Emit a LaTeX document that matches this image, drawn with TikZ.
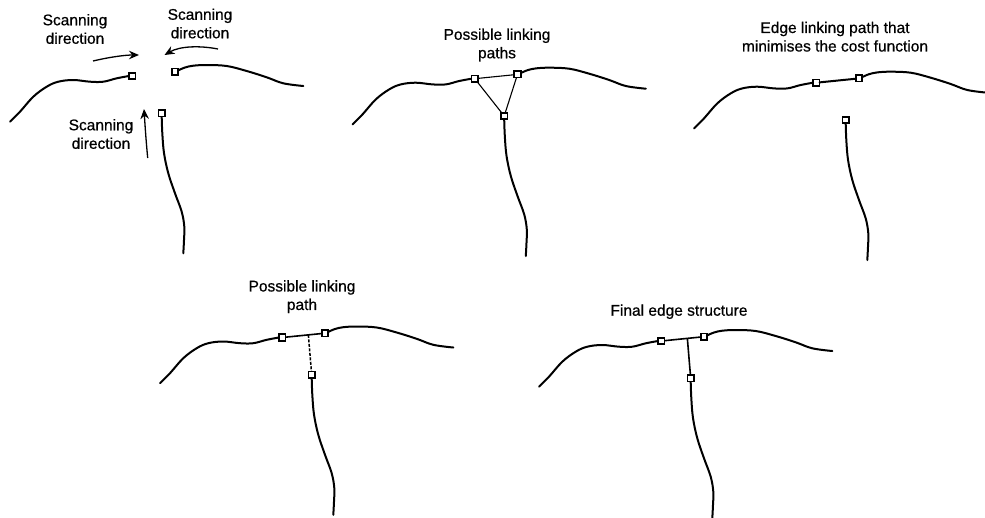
\documentclass[tikz,border=0pt]{standalone}
\usepackage{fontspec}
\setmainfont{Liberation Sans}
\newfontfamily\lblfont[FakeBold=0.6]{Liberation Sans}
\usetikzlibrary{arrows.meta,calc}
\begin{document}
\begin{tikzpicture}[x=1pt,y=-1pt,
  curve/.style={line width=2pt, line cap=round, line join=round},
  sq/.style={draw, line width=1.6pt, fill=white, minimum size=6.5pt, inner sep=0pt, outer sep=0pt},
  thinlink/.style={line width=1.1pt},
  solidlink/.style={line width=1.6pt},
  dashlink/.style={line width=1.5pt, dash pattern=on 3pt off 1.5pt},
  scanarrow/.style={line width=1.3pt, -{Stealth[length=10pt,width=8.5pt]}},
  lbl/.style={font=\lblfont\fontsize{15.5}{18.5}\selectfont, align=center, inner sep=0pt},
  pics/edgeset/.style={code={
    \draw[curve] plot[smooth,tension=0.6] coordinates {(10,121.7) (20,111.7) (33.3,96.7) (46.7,86.7) (58.3,81.7) (73.3,80) (90,81.7) (103.3,81.7) (116.7,78.3) (129,76)};
    \draw[curve] plot[smooth,tension=0.6] coordinates {(178,70.5) (185,67.5) (193.3,65.7) (206.7,65) (226.7,66) (246.7,71) (266.7,77.3) (283.3,83.3) (303.3,86)};
    \draw[curve] plot[smooth,tension=0.6] coordinates {(161.7,116.5) (162.3,133) (164,153) (168.3,173.3) (175,193.3) (181.7,211.7) (184.3,226.7) (184,240) (183.3,253.3)};
    \node[sq] (-A) at (132.3,76) {};
    \node[sq] (-B) at (175,71.7) {};
    \node[sq] (-C) at (161.7,113.3) {};
  }}
]
\useasboundingbox (0,0) rectangle (985,517);

% five copies of the edge configuration
\pic (p1) at (0,0) {edgeset};
\pic (p2) at (342.5,2.7) {edgeset};
\pic (p3) at (684,6.7) {edgeset};
\pic (p4) at (150,261.5) {edgeset};
\pic (p5) at (529,265) {edgeset};

% panel 1: scanning directions
\node[lbl] (t1) at (75,29) {Scanning\\direction};
\node[lbl] (t2) at (200,23.5) {Scanning\\direction};
\node[lbl] (t3) at (101,134) {Scanning\\direction};
\coordinate (a1s) at (93,61);
\coordinate (a1e) at (139,55);
\coordinate (a2s) at (218,49);
\coordinate (a2e) at (164.5,55);
\coordinate (a3s) at (147.7,158);
\coordinate (a3e) at (144,109);
\draw[scanarrow] (a1s) .. controls (110,57) and (125,55) .. (a1e);
\draw[scanarrow] (a2s) .. controls (200,45.5) and (180,46) .. (a2e);
\draw[scanarrow] (a3s) .. controls (146,140) and (145,125) .. (a3e);

% panel 2: possible linking paths
\node[lbl] (t4) at (497,45) {Possible linking\\paths};
\draw[thinlink] (p2-A) -- (p2-B);
\draw[thinlink] (p2-A) -- (p2-C);
\draw[thinlink] (p2-B) -- (p2-C);

% panel 3: minimum cost path
\node[lbl] (t5) at (835,36.7) {Edge linking path that\\minimises the cost function};
\draw[curve] (p3-A) -- (p3-B);

% panel 4: possible linking path
\node[lbl] (t6) at (302,296.7) {Possible linking\\path};
\draw[solidlink] (p4-A) -- (p4-B);
\coordinate (p4-J) at ($(p4-A.center)!0.61!(p4-B.center)$);
\draw[dashlink] (p4-J) -- (p4-C);

% panel 5: final edge structure
\node[lbl] (t7) at (679,311.7) {Final edge structure};
\draw[solidlink] (p5-A) -- (p5-B);
\coordinate (p5-J) at ($(p5-A.center)!0.61!(p5-B.center)$);
\draw[solidlink] (p5-J) -- (p5-C);
\end{tikzpicture}
\end{document}
